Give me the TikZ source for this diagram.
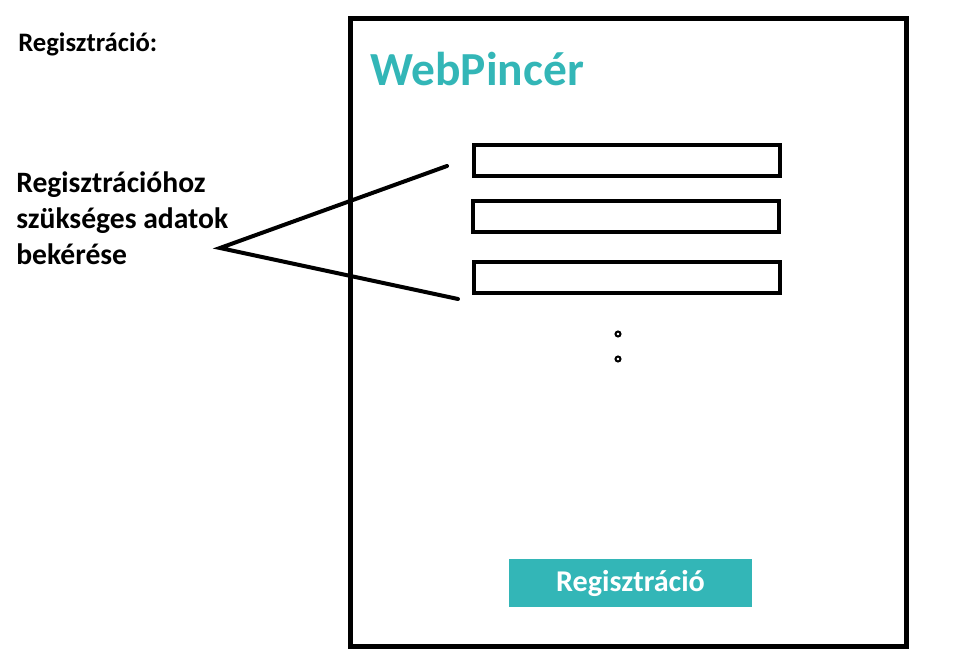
\documentclass[tikz,border=0pt]{standalone}
\usepackage{fontspec}
\setmainfont{Carlito}
\definecolor{webteal}{RGB}{51,182,183}
\begin{document}
\begin{tikzpicture}[x=0.75pt,y=-0.75pt,
  field/.style={draw,line width=3pt,minimum width=229.5pt,minimum height=23.25pt,inner sep=0pt},
  pointer/.style={line width=3pt,line cap=round},
  label/.style={inner sep=0pt,font=\bfseries}]
\useasboundingbox (0,0) rectangle (966,666);
\draw[line width=3.75pt] (350,19) rectangle (906,646);
\node[label,anchor=base west,font=\bfseries\fontsize{20pt}{24pt}\selectfont] (title) at (18,51.5) {Regisztráció:};
\node[label,anchor=base west,text=webteal,font=\bfseries\fontsize{35.6pt}{40pt}\selectfont] (brand) at (370,86) {WebPincér};
\node[field] (name) at (626.5,161) {};
\node[field] (mail) at (625.5,216.5) {};
\node[field] (pass) at (626.5,277.5) {};
\draw[line width=1.5pt] (618,334) circle[radius=2.5];
\draw[line width=1.5pt] (618,359) circle[radius=2.5];
\node[label,anchor=base west,align=left,font=\bfseries\fontsize{22.2pt}{27pt}\selectfont] (info) at (16,265)
  {Regisztrációhoz\\szükséges adatok\\bekérése};
\coordinate (apex) at (220,248);
\coordinate (top) at (447,166);
\coordinate (bot) at (458,299);
\draw[pointer] (top) -- (apex) -- (bot);
\node[fill=webteal,minimum width=182.25pt,minimum height=36pt,inner sep=0pt,text=white,font=\bfseries\fontsize{22.6pt}{26pt}\selectfont] (submit) at (630.5,583) {Regisztráció};
\end{tikzpicture}
\end{document}
